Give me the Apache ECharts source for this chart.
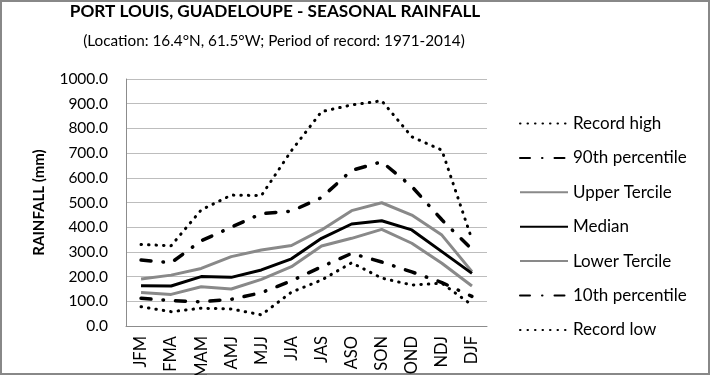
<!DOCTYPE html>
<html><head><meta charset="utf-8">
<script src="https://cdn.jsdelivr.net/npm/echarts@6/dist/echarts.min.js"></script>
<style>html,body{margin:0;padding:0;background:#fff}#c{width:710px;height:375px}</style>
</head><body><div id="c"></div>
<script>
const categories = ['JFM','FMA','MAM','AMJ','MJJ','JJA','JAS','ASO','SON','OND','NDJ','DJF'];
const recordHigh   = [330, 325, 470, 530, 528, 710, 868, 895, 912, 766, 712, 350];
const pct90        = [267, 256, 345, 400, 455, 465, 520, 630, 665, 565, 430, 310];
const upperTercile = [190, 206, 233, 281, 308, 326, 389, 467, 499, 449, 368, 220];
const median       = [163, 162, 200, 197, 227, 272, 355, 413, 426, 389, 301, 213];
const lowerTercile = [136, 128, 159, 150, 189, 240, 324, 355, 391, 335, 254, 162];
const pct10        = [112, 103,  98, 108, 135, 183, 240, 294, 259, 219, 176, 120];
const recordLow    = [ 78,  58,  72,  69,  45, 137, 186, 256, 194, 166, 173,  85];
const yTicks = [0,100,200,300,400,500,600,700,800,900,1000];

const FONT = 'Lato';
const dotted = {type:[0.5,7], cap:'round', width:3, color:'#000'};
const dashDot = {type:[10,12,0.5,12], cap:'round', width:3.5, color:'#000'};
function mk(name, data, ls){
  return {name, type:'line', data, symbol:'none', showSymbol:false, smooth:false,
    lineStyle: ls, itemStyle:{color: ls.color}, emphasis:{disabled:true}, animation:false, z: 3};
}
const chart = echarts.init(document.getElementById('c'), null, {renderer:'canvas'});
chart.setOption({
  animation:false,
  title:[
    {text:'PORT LOUIS, GUADELOUPE - SEASONAL RAINFALL', left:270, textAlign:'center', top:-2,
     textStyle:{fontFamily:FONT, fontSize:17.2, fontWeight:'bold', color:'#000'}},
    {text:'(Location: 16.4°N, 61.5°W; Period of record: 1971-2014)', left:269, textAlign:'center', top:29,
     textStyle:{fontFamily:FONT, fontSize:15.3, fontWeight:'normal', color:'#000'}}
  ],
  graphic:[{type:'rect', shape:{x:1,y:1,width:708,height:373}, style:{fill:'none', stroke:'#888', lineWidth:2}, silent:true}],
  grid:{left:126, right:223, top:79, bottom:49, containLabel:false, outerBoundsMode:'none'},
  legend:{orient:'vertical', left:514, top:110, itemWidth:48, itemHeight:14, itemGap:17.4,
    itemStyle:{opacity:0, color:'rgba(0,0,0,0)', borderWidth:0},
    textStyle:{fontFamily:FONT, fontSize:17, color:'#000'},
    data: ['Record high','90th percentile','Upper Tercile','Median','Lower Tercile','10th percentile','Record low']},
  xAxis:{type:'category', data:categories, boundaryGap:true,
    axisLine:{lineStyle:{color:'#8c8c8c', width:1}}, axisTick:{show:false},
    axisLabel:{rotate:90, fontFamily:FONT, fontSize:16.5, color:'#000', margin:10}},
  yAxis:{type:'value', min:0, max:1000, interval:100,
    name:'RAINFALL (mm)', nameLocation:'middle', nameGap:79,
    nameTextStyle:{fontFamily:FONT, fontSize:15, fontWeight:'bold', color:'#000'},
    axisLine:{show:true, lineStyle:{color:'#8c8c8c', width:1}}, axisTick:{show:false},
    splitLine:{lineStyle:{color:'#bdbdbd', width:1}},
    axisLabel:{fontFamily:FONT, fontSize:15.5, color:'#000', margin:18,
      formatter: v => yTicks.includes(v) ? v.toFixed(1) : ''}},
  series:[
    mk('Record high', recordHigh, dotted),
    mk('90th percentile', pct90, dashDot),
    mk('Upper Tercile', upperTercile, {type:'solid', width:3, color:'#898989'}),
    mk('Median', median, {type:'solid', width:3, color:'#000'}),
    mk('Lower Tercile', lowerTercile, {type:'solid', width:3, color:'#898989'}),
    mk('10th percentile', pct10, dashDot),
    mk('Record low', recordLow, dotted)
  ]
});
</script></body></html>
